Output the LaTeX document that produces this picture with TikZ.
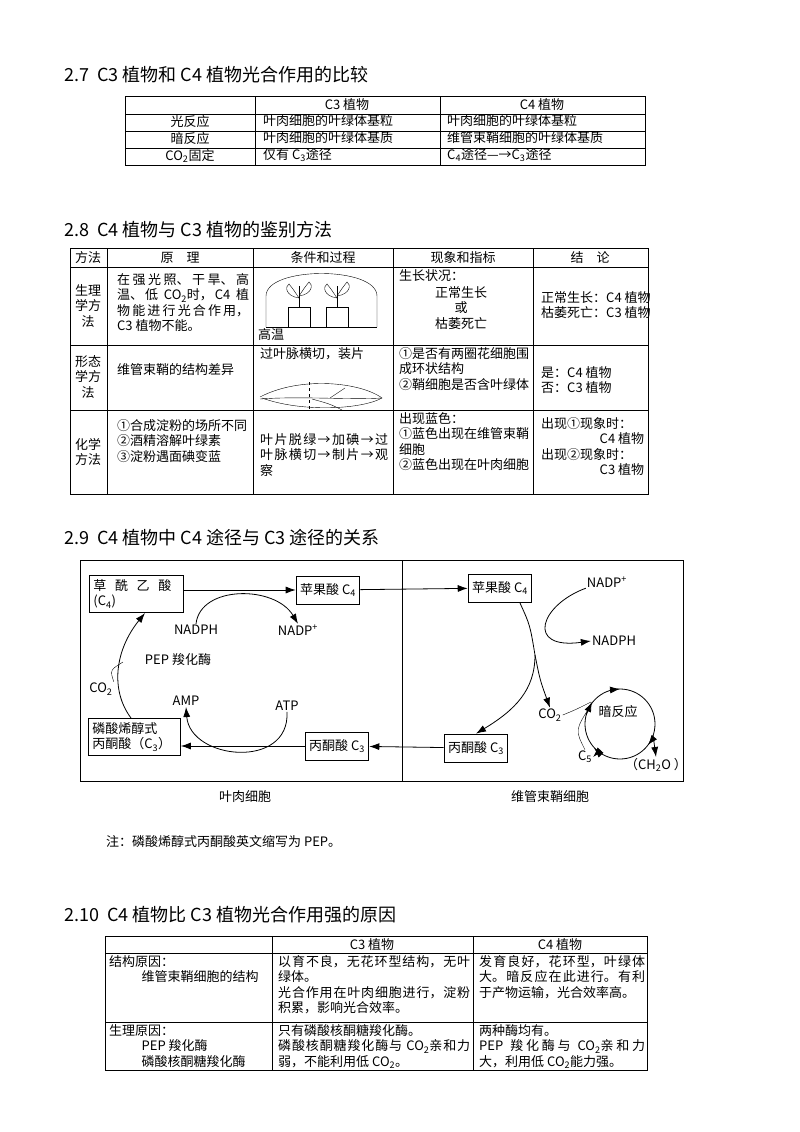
\documentclass[tikz,border=0pt]{standalone}
\usepackage{fontspec}
\setmainfont{Noto Sans CJK SC}
\XeTeXlinebreaklocale "zh"
\XeTeXlinebreakskip=0pt plus 1pt
\usetikzlibrary{positioning,arrows.meta}
\tikzset{
  txt/.style={font=\fontsize{13}{15.5}\selectfont,inner sep=1pt},
  cell/.style={txt,anchor=north west,align=justify},
  ttl/.style={font=\fontsize{18}{21}\selectfont,anchor=west,inner sep=0pt},
  box/.style={draw,thick,txt,inner sep=4pt,minimum height=28pt},
  arr/.style={-{Latex[length=10pt,width=7pt]},thick},
}
\newcommand{\sub}[1]{\textsubscript{#1}}
\begin{document}
\begin{tikzpicture}[x=1pt,y=-1pt]
\useasboundingbox (0,0) rectangle (800,1132);
% 2.7
\node[ttl] (t27) at (64,75) {2.7\ \ C3 植物和 C4 植物光合作用的比较};
\draw (125,96) rectangle (645,165);
\foreach \y in {114,131,148} \draw (125,\y) -- (645,\y);
\foreach \x in {255,440} \draw (\x,96) -- (\x,165);
\node[txt] (h1) at (347,105) {C3 植物};
\node[txt] (h2) at (542,105) {C4 植物};
\node[txt] (r1) at (190,122) {光反应};
\node[txt] (r2) at (190,139) {暗反应};
\node[txt] (r3) at (190,156) {CO\sub{2}固定};
\node[cell] (c11) at (262,113) {叶肉细胞的叶绿体基粒};
\node[cell] (c12) at (446,113) {叶肉细胞的叶绿体基粒};
\node[cell] (c21) at (262,130) {叶肉细胞的叶绿体基质};
\node[cell] (c22) at (446,130) {维管束鞘细胞的叶绿体基质};
\node[cell] (c31) at (262,147) {仅有 C\sub{3}途径};
\node[cell] (c32) at (446,147) {C\sub{4}途径—→C\sub{3}途径};
% 2.8
\node[ttl] (t28) at (64,230) {2.8\ \ C4 植物与 C3 植物的鉴别方法};
\draw (70,248) rectangle (648,494);
\foreach \y in {267,345,410} \draw (70,\y) -- (648,\y);
\foreach \x in {107,253,393,533} \draw (\x,248) -- (\x,494);
\node[txt] at (88,258) {方法};
\node[txt] at (180,258) {原\quad 理};
\node[txt] at (323,258) {条件和过程};
\node[txt] at (463,258) {现象和指标};
\node[txt] at (590,258) {结\quad 论};
\node[txt,align=center] at (88,306) {生理\\学方\\法};
\node[txt,align=center] at (88,377) {形态\\学方\\法};
\node[txt,align=center] at (88,452) {化学\\方法};
\node[cell,text width=132pt] at (116,272) {在强光照、干旱、高温、低 CO\sub{2}时，C4 植物能进行光合作用，C3 植物不能。};
\node[cell,text width=132pt] at (116,362) {维管束鞘的结构差异};
\node[cell,text width=132pt] at (116,418) {①合成淀粉的场所不同\\②酒精溶解叶绿素\\③淀粉遇面碘变蓝};
\node[cell] at (257,327) {高温};
\node[cell] at (259,346) {过叶脉横切，装片};
\node[cell,text width=128pt] at (259,432) {叶片脱绿→加碘→过叶脉横切→制片→观察};
\node[cell] at (398,268) {生长状况：};
\node[txt,align=center] at (461,308) {正常生长\\或\\枯萎死亡};
\node[cell,text width=130pt] at (398,346) {①是否有两圈花细胞围成环状结构\\②鞘细胞是否含叶绿体};
\node[cell,text width=130pt] at (398,411) {出现蓝色：\\①蓝色出现在维管束鞘细胞\\②蓝色出现在叶肉细胞};
\node[cell,align=left] at (540,290) {正常生长：C4 植物\\枯萎死亡：C3 植物};
\node[cell,align=left] at (540,365) {是：C4 植物\\否：C3 植物};
\node[cell,align=left] at (540,416) {出现①现象时：\\\hspace*{4.5em}C4 植物\\出现②现象时：\\\hspace*{4.5em}C3 植物};
% plants under dome
\draw (266,327) -- (266,296) .. controls (266,266) and (377,266) .. (377,296) -- (377,327);
\draw (266,327) -- (377,327);
\foreach \px in {299,337} {
  \draw[fill=white] (\px-11,307) rectangle (\px+11,327);
  \draw (\px,307) -- (\px,286);
  \draw (\px,298) .. controls (\px-14,296) and (\px-14,286) .. (\px-10,284) .. controls (\px-6,289) .. (\px,298);
  \draw (\px,296) .. controls (\px+14,294) and (\px+14,284) .. (\px+10,282) .. controls (\px+6,287) .. (\px,296);
}
% leaf
\draw (260,397) .. controls (300,376) and (360,382) .. (382,398) .. controls (360,410) and (300,412) .. (262,398);
\draw (260,399) .. controls (300,396) and (350,400) .. (382,398);
\draw (330,398) -- (345,388);
\draw (312,399) .. controls (330,404) .. (342,410);
\draw[dashed] (309,382) -- (309,412);
% 2.9
\node[ttl] (t29) at (64,538) {2.9\ \ C4 植物中 C4 途径与 C3 途径的关系};
\draw[thick] (80,560) rectangle (683,781);
\draw[thick] (402,560) -- (402,781);
\node[box,anchor=north west,text width=86pt,align=left,minimum height=0pt] (oaa) at (89,575) {草\ \ 酰\ \ 乙\ \ 酸\\(C\sub{4})};
\node[box] (mal1) at (328,590) {苹果酸 C\sub{4}};
\node[box] (mal2) at (500,588) {苹果酸 C\sub{4}};
\node[box,anchor=north west,text width=84pt,align=left,minimum height=0pt] (pep) at (88,718) {磷酸烯醇式\\丙酮酸（C\sub{3}）};
\node[box] (pyr1) at (337,746) {丙酮酸 C\sub{3}};
\node[box] (pyr2) at (476,748) {丙酮酸 C\sub{3}};
\node[txt] (nadph1) at (196,630) {NADPH};
\node[txt] (nadp1) at (298,630) {NADP\textsuperscript{+}};
\node[txt] (pepc) at (178,660) {PEP 羧化酶};
\node[txt] (co2a) at (101,689) {CO\sub{2}};
\node[txt] (amp) at (186,701) {AMP};
\node[txt] (atp) at (287,706) {ATP};
\node[txt] (nadp2) at (607,582) {NADP\textsuperscript{+}};
\node[txt] (nadph2) at (614,641) {NADPH};
\node[txt] (co2b) at (550,715) {CO\sub{2}};
\node[txt] (dark) at (618,712) {暗反应};
\node[txt] (c5) at (585,757) {C\sub{5}};
\node[txt] (ch2o) at (656,765) {（CH\sub{2}O ）};
\coordinate (split) at (535,655);
\draw[arr] (oaa.east |- mal1) -- (mal1);
\draw[arr] (mal1) -- (mal2);
\draw[arr] (pyr2) -- (pyr1);
\draw[arr] (pyr1) -- (pyr1 -| pep.east);
\draw[arr] (nadph1.north) .. controls (200,585) and (275,585) .. (nadp1.north);
\draw[arr] (atp.south) .. controls (290,770) and (190,760) .. (amp.south);
\draw[arr] (131,718) .. controls (110,690) and (115,650) .. (145,613);
\draw (co2a.north east) .. controls (110,670) .. (123,662);
\draw[arr] (520,603) .. controls (530,625) .. (split) .. controls (540,680) .. (co2b.north);
\draw[arr] (split) .. controls (535,690) and (515,710) .. (pyr2.north);
\draw[arr] (nadp2.south west) .. controls (540,605) and (525,650) .. (nadph2.west);
\draw[thick] (620,724) circle (35);
\draw[arr] (610,690) -- (620,689);
\draw[arr] (652,740) -- (648,745);
\draw[arr] (598,752) -- (594,748);
\draw[arr] (586,715) -- (592,702);
\draw (co2b.east) .. controls (575,710) .. (591,702);
\draw (c5.north) .. controls (575,730) .. (591,705);
\draw[arr] (598,752) -- (c5.east);
\draw[arr] (653,735) -- (ch2o.north);
\node[txt] (meso) at (245,797) {叶肉细胞};
\node[txt] (bund) at (550,797) {维管束鞘细胞};
\node[cell,align=left] (note) at (105,834) {注：磷酸烯醇式丙酮酸英文缩写为 PEP。};
% 2.10
\node[ttl] (t210) at (64,915) {2.10\ \ C4 植物比 C3 植物光合作用强的原因};
\draw (105,936) rectangle (647,1070);
\foreach \y in {953,1022} \draw (105,\y) -- (647,\y);
\foreach \x in {272,473} \draw (\x,936) -- (\x,1070);
\node[txt] at (372,945) {C3 植物};
\node[txt] at (560,945) {C4 植物};
\node[cell,align=left] at (108,954) {结构原因：\\\hspace*{2.5em}维管束鞘细胞的结构};
\node[cell,text width=192pt] at (277,954) {以育不良，无花环型结构，无叶绿体。\\光合作用在叶肉细胞进行，淀粉积累，影响光合效率。};
\node[cell,text width=166pt] at (478,954) {发育良好，花环型，叶绿体大。暗反应在此进行。有利于产物运输，光合效率高。};
\node[cell,align=left] at (108,1023) {生理原因：\\\hspace*{2.5em}PEP 羧化酶\\\hspace*{2.5em}磷酸核酮糖羧化酶};
\node[cell,text width=192pt] at (277,1023) {只有磷酸核酮糖羧化酶。\\磷酸核酮糖羧化酶与 CO\sub{2}亲和力弱，不能利用低 CO\sub{2}。};
\node[cell,text width=166pt] at (478,1023) {两种酶均有。\\PEP 羧化酶与 CO\sub{2}亲和力大，利用低 CO\sub{2}能力强。};
\end{tikzpicture}
\end{document}
